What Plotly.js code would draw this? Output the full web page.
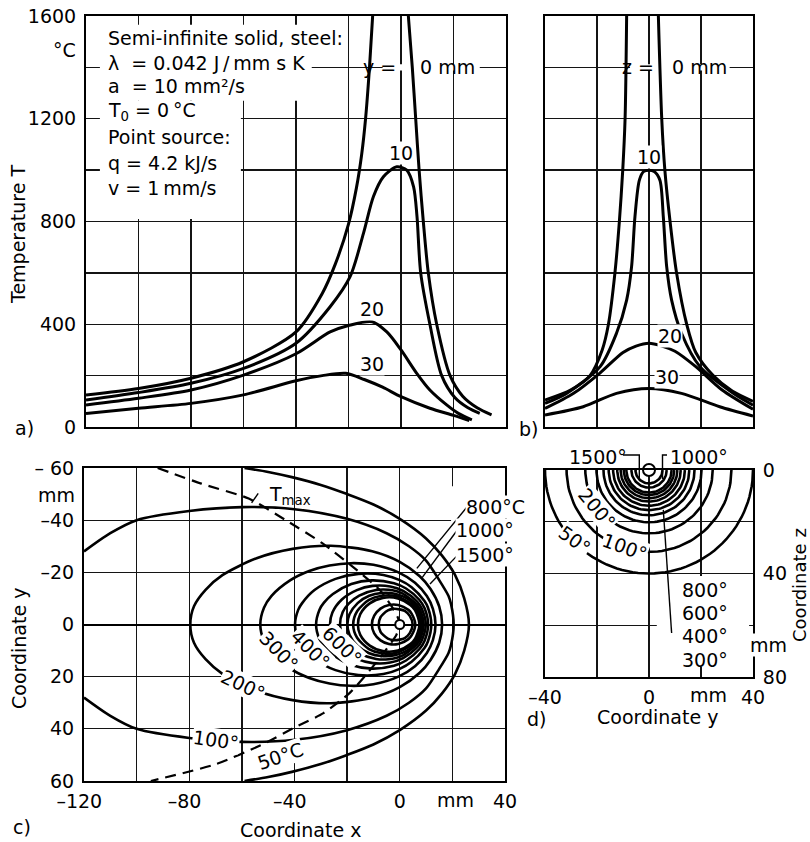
<!DOCTYPE html>
<html><head><meta charset="utf-8">
<script src="https://cdn.plot.ly/plotly-3.0.1.min.js"></script>
<style>html,body{margin:0;padding:0;background:#fff}#chart{width:810px;height:842px}</style>
</head><body><div id="chart"></div>
<script>
// ================= DATA =================
// Panel a) temperature T along x for lateral offsets y = 0, 10, 20, 30 mm
const a_y0_left_x  = [-120,-100,-80,-60,-40,-30,-25,-20,-17,-15,-13.5,-12,-10.8];
const a_y0_left_T  = [125,150,190,254,370,520,635,790,930,1060,1200,1400,1600];
const a_y0_right_x = [2.8,4.3,5.6,6.9,8.5,10.4,13.6,18.7,23.5,29,34.5];
const a_y0_right_T = [1600,1400,1200,1000,800,600,400,200,120,75,47];
const a_y10_x = [-120,-100,-80,-60,-40,-27,-19.4,-14.3,-10.5,-6.7,-1.6,2.2,4.8,6.1,7.5,11,15.5,20.5,25.5,30];
const a_y10_T = [105,134,170,228,326,468,585,754,897,974,1013,1000,935,819,600,400,200,115,75,53];
const a_y20_x = [-120,-100,-80,-60,-40,-27,-20,-11,-5.4,0,6,11,17.4,22,27];
const a_y20_T = [86,112,144,202,285,370,395,410,370,300,209,144,86,52,28];
const a_y30_x = [-120,-100,-80,-60,-40,-30,-21,-14,-7,0,11,20,26];
const a_y30_T = [53,73,92,125,180,200,209,185,155,118,73,45,25];

// Panel b) temperature T along y for depths z = 0, 10, 20, 30 mm
const b_z0_left_y  = [-40,-30,-22.7,-18,-15.6,-13.1,-11.4,-10.1,-9.2,-8.6];
const b_z0_left_T  = [105,145,200,300,400,600,800,1000,1200,1600];
const b_z0_right_y = [3.6,4.9,6.1,8.1,10.6,14.5,18,24.7,32,40];
const b_z0_right_T = [1600,1200,1000,800,600,400,290,200,140,100];
const b_z10_y = [-40,-31.7,-18.8,-12.5,-8.6,-6.7,-5.4,-3.7,-2,0,2,4.2,5.5,6.8,8.7,12.5,19.6,32.4,40];
const b_z10_T = [92,131,235,365,494,624,819,961,995,1000,995,961,819,624,494,365,235,131,85];
const b_z20_y = [-40,-29,-19,-10,-5,0,5,10,18,28,40];
const b_z20_T = [72,131,209,290,315,326,315,295,235,145,69];
const b_z30_y = [-40,-25.3,-12.5,0,12.5,27.2,40];
const b_z30_T = [47,79,131,150,131,79,43];

// Panel c) isotherms in the x-y plane: x positions and half-widths |y|
const c_levels = [50,100,200,300,400,500,600,700,800,900,1000,1500,2000];
const c_50_x   = [-59,-50,-41,-30,-20,-10,0,10,16,21,24.5,26.3];
const c_50_hw  = [60,58.5,56.5,53.5,50,46,40.5,33,26.5,19,10,0];
const c_100_x  = [-120,-110,-100,-80,-60,-40,-20,-5,3.5,10,15,18.5,19.5,20.5];
const c_100_hw = [28,35,40,43.5,45,44.2,40.5,35,30,24.5,17,11,7.8,0];
const c_200_x  = [-79.6,-78.2,-73.8,-67.4,-54.4,-40.7,-26.2,-10.5,0,7.6,11.7,15,16.1];
const c_200_hw = [0,7,13.3,18.9,25.4,29,30.2,28.1,24,18.5,13.6,6.9,0];
const c_300_x  = [-53,-51.6,-48.8,-41.7,-34.4,-26.7,-18.6,-10,-0.5,5.8,10.3,12.6,13.6];
const c_300_hw = [0,6.4,10.9,16.9,20.5,22.6,23.5,22.9,20,16,10.9,6,0];
const c_400_x  = [-39.8,-38.6,-37.1,-32.4,-24.4,-15.7,-6.2,0,4.5,9.4,10.7,12];
const c_400_hw = [0,5.6,8.2,13.2,17.5,19.4,19,17,14.3,9,6.5,0];
const c_500_x  = [-31.8,-30.5,-28.8,-25.4,-18.4,-10.7,-2.2,2.4,7.5,9.4,10.8];
const c_500_hw = [0,5.7,8.4,11.7,15.5,16.9,15.8,13.8,9.4,6.3,0];
const c_600_x  = [-26.5,-25.6,-22,-16.3,-10.3,-3.6,1.3,6.6,8.3,9.9];
const c_600_hw = [0,4.6,9.6,13.2,14.8,14.6,12.9,8.8,6.2,0];
const c_700_x  = [-22.7,-21.7,-19.4,-15.4,-9,-4.3,0.8,6.4,7.6,9.1];
const c_700_hw = [0,4.7,8,11.1,13.2,13.3,12,7.7,5.8,0];
const c_800_x  = [-19.9,-19.1,-16,-11.6,-7,-1.9,3.8,6.9,8.5];
const c_800_hw = [0,3.9,8.2,11,12.1,11.8,9.3,5.8,0];
const c_900_x  = [-17.7,-16.2,-11.7,-6.9,-1.5,4.5,6.2,8];
const c_900_hw = [0,5.1,9.4,11,10.9,7.8,5.9,0];
const c_1000_x = [-15.9,-15,-11.4,-6.4,-0.7,4,5.8,7.5];
const c_1000_hw= [0,4,8.1,10.2,10,7.5,5.5,0];
const c_1500_x = [-10.6,-9.7,-7.3,-4.1,-0.6,3.3,4.5,5.9];
const c_1500_hw= [0,3.4,6.1,7.5,7.5,5.6,4.2,0];
const c_2000_x = [-8,-7.3,-6.3,-4.5,-2.5,0,1.9,3.8,4.9];
const c_2000_hw= [0,2.8,4,5.4,6,5.8,5.2,3.3,0];
// locus of maximum temperature (dashed)
const tmax_x = [-92,-75.4,-57.4,-43.3,-29.2,-17.7,-7.4,-1.3,0,-1.3,-9.3,-19,-29,-40,-52,-70,-94.6];
const tmax_y = [-60,-54,-48.3,-40,-31,-22,-13,-4,0,4,15,26.2,34,39.5,45.9,53.6,60];

// Panel d) isotherms in the y-z cross-section: radii of the half circles
const d_levels = [50,100,200,300,400,500,600,700,800,900,1000,1500,2000];
const d_radius = [40,31.7,24.5,20.2,17.5,15.5,13.8,12.2,10.9,9.7,8.7,6.8,5.2];

// heat source position
const source_x = [0], source_y = [0];

// ticks
const a_xTicks = [-120,-100,-80,-60,-40,-20,0,20,40];
const a_tTicks = [0,200,400,600,800,1000,1200,1400,1600];
const a_tText  = ['0','','400','','800','','1200','','1600'];
const b_yTicks = [-40,-20,0,20,40];
const c_xTicks = [-120,-100,-80,-60,-40,-20,0,20,40];
const c_xText  = ['\u2013120\u2002','','\u201380\u2002','','\u201340\u2002','','0','','40'];
const c_yTicks = [-60,-40,-20,0,20,40,60];
const c_yText  = ['\u2013 60','\u201340','\u201320','0','20','40','60'];
const d_yTicks = [-40,-20,0,20,40];
const d_yText  = ['\u201340','','0','','40'];
const d_zTicks = [0,20,40,60,80];
const d_zText  = ['0','','40','','80'];

// ================= DRAWING =================
const W = 810, H = 842;
const px = v => v / W, py = v => 1 - v / H;
const dX = (a, b) => [a / W, b / W];
const dY = (top, bottom) => [1 - bottom / H, 1 - top / H];
const FONT = {family: 'DejaVu Sans, Verdana, sans-serif', size: 19, color: '#000'};
const BLACK = '#000';

function axis(extra) {
  return Object.assign({
    showline: true, mirror: true, linecolor: BLACK, linewidth: 2,
    showgrid: true, gridcolor: '#141414', gridwidth: 1.3,
    zeroline: false, ticks: '', tickfont: FONT, fixedrange: true
  }, extra);
}
const LINE = {color: BLACK, width: 3, shape: 'spline', smoothing: 0.8};
const LINEc = {color: BLACK, width: 2.6, shape: 'spline', smoothing: 0.8};

const traces = [];
// panel a
traces.push({x: a_y0_left_x.concat([null], a_y0_right_x), y: a_y0_left_T.concat([null], a_y0_right_T),
  mode: 'lines', line: LINE, xaxis: 'x', yaxis: 'y', connectgaps: false, hoverinfo: 'skip'});
[[a_y10_x, a_y10_T], [a_y20_x, a_y20_T], [a_y30_x, a_y30_T]].forEach(([x, y]) =>
  traces.push({x, y, mode: 'lines', line: LINE, xaxis: 'x', yaxis: 'y', hoverinfo: 'skip'}));
// panel b
traces.push({x: b_z0_left_y.concat([null], b_z0_right_y), y: b_z0_left_T.concat([null], b_z0_right_T),
  mode: 'lines', line: LINE, xaxis: 'x2', yaxis: 'y2', connectgaps: false, hoverinfo: 'skip'});
[[b_z10_y, b_z10_T], [b_z20_y, b_z20_T], [b_z30_y, b_z30_T]].forEach(([x, y]) =>
  traces.push({x, y, mode: 'lines', line: LINE, xaxis: 'x2', yaxis: 'y2', hoverinfo: 'skip'}));

// panel c isotherms (symmetric about y = 0)
function loop(xs, hw, closed) {
  const up = xs.map((x, i) => [x, -hw[i]]);
  const low = xs.slice(0, -1).reverse().map((x, i) => [x, hw[xs.length - 2 - i]]);
  let pts = up.concat(low);
  if (closed) {
    let m = 0;
    hw.forEach((h, i) => { if (h > hw[m]) m = i; });
    pts = pts.slice(m).concat(pts.slice(1, m + 1));
  }
  return {x: pts.map(p => p[0]), y: pts.map(p => p[1])};
}
const cSets = [[c_50_x, c_50_hw, false], [c_100_x, c_100_hw, false], [c_200_x, c_200_hw, true],
  [c_300_x, c_300_hw, true], [c_400_x, c_400_hw, true], [c_500_x, c_500_hw, true],
  [c_600_x, c_600_hw, true], [c_700_x, c_700_hw, true], [c_800_x, c_800_hw, true],
  [c_900_x, c_900_hw, true], [c_1000_x, c_1000_hw, true], [c_1500_x, c_1500_hw, true],
  [c_2000_x, c_2000_hw, true]];
cSets.forEach(([xs, hw, closed]) => {
  const L = loop(xs, hw, closed);
  traces.push({x: L.x, y: L.y, mode: 'lines', line: LINEc, xaxis: 'x3', yaxis: 'y3', hoverinfo: 'skip'});
});
traces.push({x: tmax_x, y: tmax_y, mode: 'lines', xaxis: 'x3', yaxis: 'y3', hoverinfo: 'skip',
  line: {color: BLACK, width: 2.2, dash: '11px,7px', shape: 'spline', smoothing: 0.6}});
traces.push({x: source_x, y: source_y, mode: 'markers', xaxis: 'x3', yaxis: 'y3', hoverinfo: 'skip', cliponaxis: false,
  marker: {size: 9, color: '#fff', line: {color: BLACK, width: 2}}});

// panel d half circles
d_radius.forEach(r => {
  const ys = [], zs = [];
  for (let a = 0; a <= 180; a += 3) { const t = a * Math.PI / 180; ys.push(r * Math.cos(t)); zs.push(r * Math.sin(t)); }
  traces.push({x: ys, y: zs, mode: 'lines', line: {color: BLACK, width: 2.6}, xaxis: 'x4', yaxis: 'y4', hoverinfo: 'skip'});
});
traces.push({x: source_x, y: source_y, mode: 'markers', xaxis: 'x4', yaxis: 'y4', hoverinfo: 'skip', cliponaxis: false,
  marker: {size: 12, color: '#fff', line: {color: BLACK, width: 2}}});

// ---------- shapes ----------
const white = (xref, yref, x0, x1, y0, y1) => ({type: 'rect', xref, yref, x0, x1, y0, y1, layer: 'between',
  fillcolor: '#fff', line: {width: 0}});
const seg = (xref, yref, x0, y0, x1, y1, w) => ({type: 'line', xref, yref, x0, y0, x1, y1, line: {color: BLACK, width: w || 1.4}});
const shapes = [
  white('x', 'y', -114.7, -34, 1270, 1566),
  white('x', 'y', -114.7, -61, 810, 1270),
  white('x', 'y', -7, 30, 1388, 1412),
  white('x2', 'y2', -7.3, 31, 1388, 1412),
  white('x3', 'y3', 19.5, 39.5, -53, -21.5),
  white('x4', 'y4', 3, 38.5, 41, 76),
  seg('x3', 'y3', 26, -45.6, 6.5, -21.5),
  seg('x3', 'y3', 22.6, -37.2, 8.5, -18),
  seg('x3', 'y3', 22, -26.6, 11.5, -15.5),
  seg('x3', 'y3', -53.8, -50.3, -56.3, -46.6),
  seg('x4', 'y4', 8.7, 63, 5.5, 15.4),
  {type: 'path', xref: 'paper', yref: 'paper', line: {color: BLACK, width: 1.4},
    path: `M ${px(623)} ${py(455)} L ${px(639.3)} ${py(455)} L ${px(639.3)} ${py(479)}`},
  {type: 'path', xref: 'paper', yref: 'paper', line: {color: BLACK, width: 1.4},
    path: `M ${px(667)} ${py(455)} L ${px(662.5)} ${py(455)} L ${px(662.5)} ${py(479)}`}
];

// ---------- annotations ----------
const P = (text, x, y, o) => Object.assign({xref: 'paper', yref: 'paper', x: px(x), y: py(y), text,
  showarrow: false, font: FONT, xanchor: 'center', yanchor: 'middle'}, o || {});
const D = (xr, yr, text, x, y, o) => Object.assign({xref: xr, yref: yr, x, y, text,
  showarrow: false, font: FONT, xanchor: 'center', yanchor: 'middle'}, o || {});
const bg = {bgcolor: '#fff', borderpad: 0};
const L = o => Object.assign({xanchor: 'left'}, o || {});
const annotations = [
  // panel a text block
  P('Semi-infinite solid, steel:', 106, 38, L()),
  P('\u03bb\u00a0\u00a0=\u00a00.042 J\u2009/\u2009mm s K', 106, 63, L()),
  P('a\u00a0\u00a0=\u00a010 mm\u00b2/s', 106, 86, L()),
  P('T<sub>0</sub> = 0\u2009\u00b0C', 106, 111, L()),
  P('Point source:', 106, 137, L()),
  P('q = 4.2 kJ/s', 106, 163, L()),
  P('v = 1\u2009mm/s', 106, 188, L()),
  // axis titles / units / panel letters
  P('\u00b0C', 78, 50, {xanchor: 'right'}),
  P('Temperature T', 18, 235, {textangle: -90}),
  P('a)', 24, 428),
  P('b)', 528, 429),
  P('c)', 22, 827),
  P('d)', 536, 719),
  P('mm', 77, 495, {xanchor: 'right'}),
  P('mm', 455, 800),
  P('Coordinate x', 300, 830),
  P('Coordinate y', 19, 649, {textangle: -90}),
  P('mm', 708, 695),
  P('Coordinate y', 657, 717),
  P('Coordinate z', 799, 585, {textangle: -90, font: Object.assign({}, FONT, {size: 18})}),
  P('mm', 768, 645, bg),
  P('1500\u00b0', 598, 457),
  P('1000\u00b0', 699, 457),
  // panel a curve labels
  D('x', 'y', 'y =', -1.2, 1400, {xanchor: 'right'}),
  D('x', 'y', '0 mm', 6.6, 1400, L()),
  D('x', 'y', '10', -0.1, 1065, bg),
  D('x', 'y', '20', -10.9, 459, bg),
  D('x', 'y', '30', -10.9, 245, bg),
  // panel b curve labels
  D('x2', 'y2', 'z =', 2.8, 1400, {xanchor: 'right'}),
  D('x2', 'y2', '0 mm', 8.2, 1400, L()),
  D('x2', 'y2', '10', 0, 1052, bg),
  D('x2', 'y2', '20', 8.1, 355, bg),
  D('x2', 'y2', '30', 6.8, 193, bg),
  // panel c isotherm labels
  D('x3', 'y3', '800\u00b0C', 24.9, -45.1, L(bg)),
  D('x3', 'y3', '1000\u00b0', 21.1, -36.2, L(bg)),
  D('x3', 'y3', '1500\u00b0', 21.1, -26.5, L(bg)),
  D('x3', 'y3', 'T<sub>max</sub>', -41.9, -49.6),
  D('x3', 'y3', '300\u00b0', -45.9, 10.2, Object.assign({textangle: 46}, bg)),
  D('x3', 'y3', '400\u00b0', -33.8, 9.2, Object.assign({textangle: 45}, bg)),
  D('x3', 'y3', '600\u00b0', -21.8, 8.3, Object.assign({textangle: 44}, bg)),
  D('x3', 'y3', '200\u00b0', -59.4, 23.3, Object.assign({textangle: 25}, bg)),
  D('x3', 'y3', '100\u00b0', -69.8, 44.3, Object.assign({textangle: 8}, bg)),
  D('x3', 'y3', '50\u00b0C', -45.5, 50.6, Object.assign({textangle: -19}, bg)),
  // panel d labels
  D('x4', 'y4', '200\u00b0', -20.1, 14.8, Object.assign({textangle: 50}, bg)),
  D('x4', 'y4', '100\u00b0', -9.2, 29.6, Object.assign({textangle: 20}, bg)),
  D('x4', 'y4', '50\u00b0', -28.5, 27, Object.assign({textangle: 36}, bg)),
  D('x4', 'y4', '800\u00b0', 11.9, 46.3, L()),
  D('x4', 'y4', '600\u00b0', 11.9, 55.3, L()),
  D('x4', 'y4', '400\u00b0', 11.9, 64.3, L()),
  D('x4', 'y4', '300\u00b0', 11.9, 73.4, L())
];

const layout = {
  width: W, height: H, margin: {l: 0, r: 0, t: 0, b: 0},
  paper_bgcolor: '#fff', plot_bgcolor: '#fff', showlegend: false, font: FONT,
  xaxis: axis({domain: dX(86, 506), range: [-120, 40], tickvals: a_xTicks, showticklabels: false, anchor: 'y'}),
  yaxis: axis({domain: dY(16, 427), range: [0, 1600], tickvals: a_tTicks, ticktext: a_tText, anchor: 'x', ticklabelstandoff: 4}),
  xaxis2: axis({domain: dX(545, 753), range: [-40, 40], tickvals: b_yTicks, showticklabels: false, anchor: 'y2'}),
  yaxis2: axis({domain: dY(16, 427), range: [0, 1600], tickvals: a_tTicks, showticklabels: false, anchor: 'x2'}),
  xaxis3: axis({domain: dX(84, 505), range: [-120, 40], tickvals: c_xTicks, ticktext: c_xText, anchor: 'y3', ticklabelstandoff: 2}),
  yaxis3: axis({domain: dY(468, 781), range: [60, -60], tickvals: c_yTicks, ticktext: c_yText, anchor: 'x3',
    ticklabelstandoff: 4, zeroline: true, zerolinecolor: BLACK, zerolinewidth: 2}),
  xaxis4: axis({domain: dX(545, 753), range: [-40, 40], tickvals: d_yTicks, ticktext: d_yText, anchor: 'y4', ticklabelstandoff: 2}),
  yaxis4: axis({domain: dY(470, 677), range: [80, 0], tickvals: d_zTicks, ticktext: d_zText, anchor: 'x4', side: 'right', ticklabelstandoff: 4}),
  shapes, annotations
};

Plotly.newPlot('chart', traces, layout, {staticPlot: true, displayModeBar: false});
</script>
</body></html>
